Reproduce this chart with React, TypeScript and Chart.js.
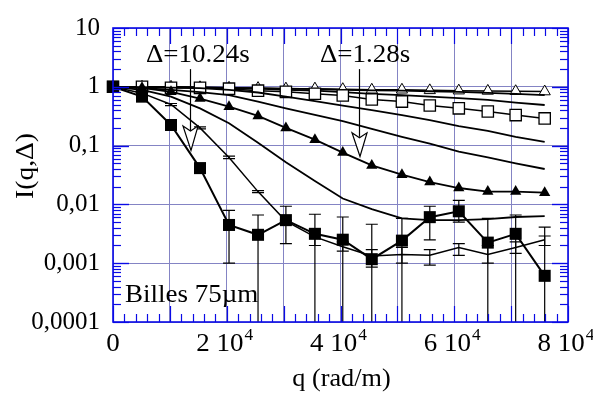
import React, { useEffect, useRef } from 'react';
import { Chart, registerables } from 'chart.js';

Chart.register(...registerables);

// ---------- data ----------
const Q = [0, 5100, 10200, 15300, 20400, 25500, 30400, 35500, 40400, 45500, 50800, 55700, 60800, 65900, 70800, 75900];

const SQ_FILLED = [1, 0.68, 0.224, 0.0414, 0.00447, 0.00304, 0.0054, 0.00316, 0.00251, 0.00117, 0.00242, 0.00607, 0.00764, 0.00224, 0.00316, 0.00061];
const SQ_FILLED_HI = [null, null, null, 0.05, 0.0079, 0.0066, 0.0093, 0.0068, 0.0061, 0.0046, 0.0058, 0.0093, 0.0117, 0.0058, 0.0066, 0.0041];
const SQ_FILLED_LO = [null, null, null, 0.034, 0.001, 0.00001, 0.00215, 0.00001, 0.00001, 0.00001, 0.00001, 0.0025, 0.005, 0.00001, 0.00001, 0.00001];

const LINE_F = [1, 0.78, 0.5, 0.2, 0.063, 0.0165, 0.0052, 0.0028, 0.0019, 0.00133, 0.00141, 0.00136, 0.00185, 0.00141, 0.00185, 0.0025];
const LINE_F_HI = [null, null, 0.52, 0.208, 0.066, 0.0172, 0.0054, 0.0038, 0.0023, 0.0017, 0.00185, 0.0017, 0.00215, 0.002, 0.0023, 0.0029];
const LINE_F_LO = [null, null, 0.48, 0.192, 0.06, 0.0158, 0.005, 0.002, 0.0016, 0.00086, 0.001, 0.00093, 0.00136, 0.001, 0.00147, 0.002];

const LINE_E = [1, 0.89, 0.68, 0.43, 0.24, 0.112, 0.052, 0.025, 0.0126, 0.0083, 0.0058, 0.0054, 0.0054, 0.0056, 0.0061, 0.0063];
const TRI_FILLED = [1, 0.96, 0.82, 0.63, 0.46, 0.32, 0.2, 0.126, 0.076, 0.046, 0.032, 0.024, 0.019, 0.0165, 0.0165, 0.0158];
const LINE_D = [1, 0.96, 0.89, 0.81, 0.72, 0.56, 0.43, 0.334, 0.261, 0.192, 0.141, 0.108, 0.079, 0.063, 0.05, 0.04];
const LINE_C = [1, 0.99, 0.97, 0.95, 0.89, 0.8, 0.68, 0.57, 0.48, 0.4, 0.33, 0.27, 0.215, 0.178, 0.141, 0.116];
const SQ_OPEN = [1, 1.0, 0.96, 0.96, 0.93, 0.86, 0.82, 0.76, 0.71, 0.61, 0.56, 0.48, 0.43, 0.38, 0.33, 0.29];
const LINE_B = [1, 1, 0.98, 0.96, 0.94, 0.93, 0.89, 0.86, 0.81, 0.76, 0.72, 0.68, 0.64, 0.6, 0.54, 0.49];
const LINE_A = [1, 1, 1, 0.98, 0.96, 0.94, 0.93, 0.91, 0.89, 0.87, 0.86, 0.84, 0.82, 0.79, 0.76, 0.72];
const TRI_OPEN = [1, 1, 1, 0.98, 0.96, 0.95, 0.93, 0.93, 0.91, 0.89, 0.89, 0.87, 0.86, 0.85, 0.84, 0.83];

const X_TICK_VALUES = [0, 20000, 40000, 60000, 80000];
const X_TICK_LABELS = ['0', '2 10^4', '4 10^4', '6 10^4', '8 10^4'];
const Y_TICK_VALUES = [0.0001, 0.001, 0.01, 0.1, 1, 10];
const Y_TICK_LABELS = ['0,0001', '0,001', '0,01', '0,1', '1', '10'];

const X_TITLE = 'q (rad/m)';
const Y_TITLE = 'I(q,\u0394)';
const NOTE = 'Billes 75\u00b5m';
const ARROW_LABELS = ['\u0394=10.24s', '\u0394=1.28s'];
const ARROW_Q = [13600, 43200];

// ---------- styling ----------
const FONT = "'Liberation Serif', 'Times New Roman', serif";
const FRAME = '#0a0ae6';
const GRID = '#8484c4';
const SX = 1.08;

function pts(vals: number[]) {
  return Q.map((q, i) => ({ x: q, y: vals[i] }));
}

function lineDs(label: string, vals: number[], extra: any = {}) {
  return {
    label,
    data: pts(vals),
    borderColor: '#000',
    borderWidth: 1.8,
    pointRadius: 0,
    fill: false,
    tension: 0,
    clip: false,
    ...extra,
  };
}

function sText(ctx: CanvasRenderingContext2D, text: string, x: number, y: number, align: CanvasTextAlign, sx = SX) {
  ctx.save();
  ctx.translate(x, y);
  ctx.scale(sx, 1);
  ctx.textAlign = align;
  ctx.fillText(text, 0, 0);
  ctx.restore();
}

const ERRORS = [
  { ds: 0, hi: SQ_FILLED_HI, lo: SQ_FILLED_LO },
  { ds: 1, hi: LINE_F_HI, lo: LINE_F_LO },
];

const decor = {
  id: 'decor',
  beforeDatasetsDraw(chart: any) {
    const { ctx, chartArea: a, scales } = chart;
    const xs = scales.x, ys = scales.y;
    ctx.save();
    ctx.beginPath();
    ctx.rect(a.left, a.top, a.right - a.left, a.bottom - a.top);
    ctx.clip();
    ctx.strokeStyle = '#000';
    ctx.lineWidth = 1.2;
    ERRORS.forEach((e) => {
      Q.forEach((q, i) => {
        const hi = e.hi[i], lo = e.lo[i];
        if (hi == null || lo == null) return;
        const px = xs.getPixelForValue(q);
        const ph = ys.getPixelForValue(hi);
        const pl = ys.getPixelForValue(lo);
        ctx.beginPath();
        ctx.moveTo(px, ph); ctx.lineTo(px, pl);
        ctx.moveTo(px - 6, ph); ctx.lineTo(px + 6, ph);
        ctx.moveTo(px - 6, pl); ctx.lineTo(px + 6, pl);
        ctx.stroke();
      });
    });
    ctx.restore();
  },
  afterDraw(chart: any) {
    const { ctx, chartArea: a, scales } = chart;
    const xs = scales.x, ys = scales.y;
    ctx.save();
    // ticks
    ctx.strokeStyle = FRAME;
    ctx.lineWidth = 1.2;
    const seg = (x1: number, y1: number, x2: number, y2: number) => {
      ctx.beginPath(); ctx.moveTo(x1, y1); ctx.lineTo(x2, y2); ctx.stroke();
    };
    for (let v = 0; v <= 80000; v += 2000) {
      const px = Math.round(xs.getPixelForValue(v)) + 0.5;
      const len = v % 10000 === 0 ? 16 : 8;
      seg(px, a.bottom, px, a.bottom - len);
      seg(px, a.top, px, a.top + len);
    }
    for (let e = -4; e <= 0; e++) {
      for (let m = 1; m <= 10; m++) {
        const v = m * Math.pow(10, e);
        const py = Math.round(ys.getPixelForValue(v)) + 0.5;
        const len = m === 1 || m === 10 ? 16 : 8;
        seg(a.left, py, a.left + len, py);
        seg(a.right, py, a.right - len, py);
      }
    }
    // frame
    ctx.lineWidth = 1.6;
    ctx.strokeRect(a.left, a.top, a.right - a.left, a.bottom - a.top);

    // x tick labels with superscripts
    ctx.fillStyle = '#000';
    ctx.textBaseline = 'alphabetic';
    X_TICK_VALUES.forEach((v, i) => {
      const px = xs.getPixelForValue(v);
      const [base, sup] = X_TICK_LABELS[i].split('^');
      ctx.font = `25px ${FONT}`;
      const wb = ctx.measureText(base).width * SX;
      ctx.font = `16px ${FONT}`;
      const ws = sup ? ctx.measureText(sup).width * SX + 1 : 0;
      const start = px - (wb + ws) / 2 - (sup ? 2 : 0);
      ctx.font = `25px ${FONT}`;
      sText(ctx, base, start, 351, 'left');
      if (sup) {
        ctx.font = `16px ${FONT}`;
        sText(ctx, sup, start + wb + 1, 340, 'left');
      }
    });

    // axis titles
    ctx.font = `25px ${FONT}`;
    sText(ctx, X_TITLE, (a.left + a.right) / 2 + 1, 386, 'center', 1.05);
    ctx.save();
    ctx.translate(33, 166);
    ctx.rotate(-Math.PI / 2);
    ctx.scale(1.1, 1);
    ctx.textAlign = 'center';
    ctx.fillText(Y_TITLE, 0, 0);
    ctx.restore();

    // note
    sText(ctx, NOTE, 125, 302, 'left');

    // arrows with labels
    const labelX = [146, 320];
    ARROW_LABELS.forEach((lab, i) => {
      sText(ctx, lab, labelX[i], 62, 'left');
      const px = Math.round(xs.getPixelForValue(ARROW_Q[i])) + 0.5;
      const top = ys.getPixelForValue(2.0);
      const headTop = ys.getPixelForValue(i === 0 ? 0.215 : 0.165);
      const tip = ys.getPixelForValue(i === 0 ? 0.0825 : 0.0655);
      ctx.strokeStyle = '#000';
      ctx.lineWidth = 1.2;
      seg(px, top, px, headTop + 4);
      ctx.beginPath();
      ctx.moveTo(px - 7.5, headTop);
      ctx.lineTo(px, headTop + 5);
      ctx.lineTo(px + 7.5, headTop);
      ctx.lineTo(px + 0.5, tip);
      ctx.closePath();
      ctx.fillStyle = '#fff';
      ctx.fill();
      ctx.stroke();
      ctx.fillStyle = '#000';
    });
    ctx.restore();
  },
};

export default function App() {
  const ref = useRef<HTMLCanvasElement>(null);
  useEffect(() => {
    if (!ref.current) return;
    const chart = new Chart(ref.current, {
      type: 'line',
      data: {
        datasets: [
          lineDs('filled squares', SQ_FILLED, {
            borderWidth: 2,
            pointStyle: 'rect',
            pointRadius: 8.5,
            pointBackgroundColor: '#000',
            pointBorderColor: '#000',
            pointBorderWidth: 0,
          }),
          lineDs('F', LINE_F, { borderWidth: 1.5 }),
          lineDs('E', LINE_E),
          lineDs('filled triangles', TRI_FILLED, {
            pointStyle: 'triangle',
            pointRadius: 6.5,
            pointBackgroundColor: '#000',
            pointBorderColor: '#000',
            pointBorderWidth: 0,
          }),
          lineDs('D', LINE_D),
          lineDs('C', LINE_C),
          lineDs('open squares', SQ_OPEN, {
            borderWidth: 1.5,
            pointStyle: 'rect',
            pointRadius: 8,
            pointBackgroundColor: '#fff',
            pointBorderColor: '#000',
            pointBorderWidth: 1.3,
          }),
          lineDs('B', LINE_B),
          lineDs('A', LINE_A),
          lineDs('open triangles', TRI_OPEN, {
            borderWidth: 1.5,
            pointStyle: 'triangle',
            pointRadius: 6.5,
            pointBackgroundColor: '#fff',
            pointBorderColor: '#000',
            pointBorderWidth: 1,
          }),
        ],
      },
      options: {
        responsive: false,
        animation: false,
        events: [],
        layout: { padding: { left: 0, top: 21, right: 25, bottom: 0 } },
        plugins: { legend: { display: false }, tooltip: { enabled: false } },
        scales: {
          x: {
            type: 'linear',
            min: 0,
            max: 80000,
            ticks: { stepSize: 10000, display: false },
            grid: { color: GRID, lineWidth: 1, drawTicks: false },
            border: { display: false },
            afterFit: (s: any) => { s.height = 72; },
          },
          y: {
            type: 'logarithmic',
            min: 0.0001,
            max: 10,
            afterBuildTicks: (s: any) => { s.ticks = Y_TICK_VALUES.map((v) => ({ value: v })); },
            ticks: {
              autoSkip: false,
              padding: 13,
              color: '#000',
              font: { family: FONT, size: 25 },
              callback: (_v: any, i: number) => Y_TICK_LABELS[i],
            },
            grid: { color: GRID, lineWidth: 1, drawTicks: false },
            border: { display: false },
            afterFit: (s: any) => { s.width = 113; },
          },
        },
      } as any,
      plugins: [decor],
    });
    return () => chart.destroy();
  }, []);
  return (
    <canvas
      ref={ref}
      width={593}
      height={394}
      style={{ position: 'absolute', left: 0, top: 0, width: '593px', height: '394px', background: '#fff' }}
    />
  );
}
